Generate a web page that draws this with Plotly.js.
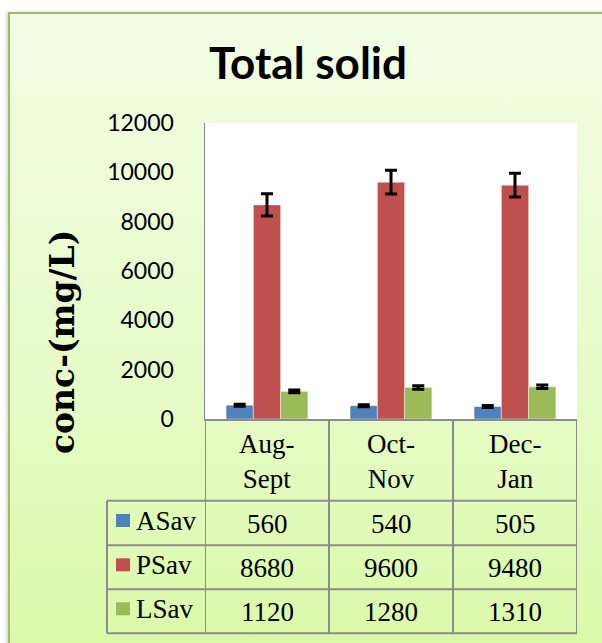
<!DOCTYPE html>
<html>
<head>
<meta charset="utf-8">
<script src="https://cdn.plot.ly/plotly-3.0.1.min.js"></script>
<style>
  html, body { margin: 0; padding: 0; width: 602px; height: 643px; overflow: hidden; background: #ffffff; }
  #frame { position: absolute; left: 8px; top: 12px; width: 700px; height: 700px;
           border: 2px solid #9fbd62; box-shadow: -2px 0 3px rgba(0,0,0,0.15);
           background: linear-gradient(to bottom, #f2fde4 0px, #e6fbc6 380px, #dbf9a9 631px); }
  #chart { position: absolute; left: 0; top: 0; width: 602px; height: 643px; }
</style>
</head>
<body>
<div id="frame"></div>
<div id="chart"></div>
<script>
// ---- data ----
const categories = ["Aug-Sept", "Oct-Nov", "Dec-Jan"];
const tickLabels = ["Aug-<br>Sept", "Oct-<br>Nov", "Dec-<br>Jan"];
const seriesNames = ["ASav", "PSav", "LSav"];
const asav = [560, 540, 505];
const psav = [8680, 9600, 9480];
const lsav = [1120, 1280, 1310];
const asavErr = [40, 40, 40];
const psavErr = [450, 480, 480];
const lsavErr = [60, 70, 70];
const yTickVals = [0, 2000, 4000, 6000, 8000, 10000, 12000];
const chartTitle = "Total solid";
const yTitle = "conc-(mg/L)";

// ---- layout geometry ----
const W = 602, H = 643;
const L = 205, R = 577, T = 123, B = 419;
const PW = R - L, PH = B - T;
const px2x = p => (p - L) / PW;
const px2y = p => (B - p) / PH;

const colors = ["#4f81bd", "#c0504d", "#9bbb59"];
const seriesVals = [asav, psav, lsav];
const seriesErr = [asavErr, psavErr, lsavErr];

const traces = seriesNames.map((n, i) => ({
  type: "bar", name: n, x: categories, y: seriesVals[i],
  marker: { color: colors[i], line: { color: "rgba(255,255,255,0.45)", width: 1 } },
  error_y: { type: "data", array: seriesErr[i], visible: true, color: "#000000", thickness: 3, width: 6 },
  hoverinfo: "x+y+name"
}));

const lineColor = "#8c8c8c";
const serif = "Liberation Serif, Times New Roman, serif";
const shapes = [];
const annotations = [];

// table row boundaries (pixel)
const rowY = [B, 500.7, 545.3, 589.3, 633.3];
for (let r = 1; r < rowY.length; r++) {
  shapes.push({ type: "line", xref: "paper", yref: "paper", x0: px2x(107), x1: 1, y0: px2y(rowY[r]), y1: px2y(rowY[r]), line: { color: lineColor, width: 2 } });
}
for (let k = 0; k <= categories.length; k++) {
  shapes.push({ type: "line", xref: "x", yref: "paper", x0: k - 0.5, x1: k - 0.5, y0: px2y(rowY[0]), y1: px2y(rowY[4]), line: { color: lineColor, width: 2 } });
}
shapes.push({ type: "line", xref: "paper", yref: "paper", x0: px2x(107), x1: px2x(107), y0: px2y(rowY[1]), y1: px2y(rowY[4]), line: { color: lineColor, width: 2 } });

// header labels
categories.forEach((c, i) => {
  annotations.push({ xref: "x", yref: "paper", x: c, y: px2y((rowY[0] + rowY[1]) / 2 + 2),
    text: tickLabels[i], showarrow: false, xanchor: "center", yanchor: "middle",
    font: { family: serif, size: 27, color: "#000" } });
});

// rows: legend key + name + values
seriesNames.forEach((n, r) => {
  const yc = (rowY[r + 1] + rowY[r + 2]) / 2;
  shapes.push({ type: "rect", xref: "paper", yref: "paper",
    x0: px2x(116), x1: px2x(130), y0: px2y(yc - 9), y1: px2y(yc + 4),
    fillcolor: colors[r], line: { width: 0 } });
  annotations.push({ xref: "paper", yref: "paper", x: px2x(134), y: px2y(yc - 2),
    text: n, showarrow: false, xanchor: "left", yanchor: "middle",
    font: { family: serif, size: 27, color: "#000" } });
  categories.forEach((c, i) => {
    annotations.push({ xref: "x", yref: "paper", x: c, y: px2y(yc + 1),
      text: String(seriesVals[r][i]), showarrow: false, xanchor: "center", yanchor: "middle",
      font: { family: serif, size: 27, color: "#000" } });
  });
});

// title
annotations.push({ xref: "paper", yref: "paper", x: px2x(308), y: px2y(62), text: "<b>" + chartTitle + "</b>",
  showarrow: false, xanchor: "center", yanchor: "middle",
  font: { family: "Lato, sans-serif", size: 44, color: "#000" } });
// y title
annotations.push({ xref: "paper", yref: "paper", x: px2x(62), y: px2y(342), text: "<b>" + yTitle + "</b>",
  textangle: -90, showarrow: false, xanchor: "center", yanchor: "middle",
  font: { family: "DejaVu Serif, serif", size: 33, color: "#000" } });

const layout = {
  width: W, height: H,
  margin: { l: L, r: W - R, t: T, b: H - B, pad: 0 },
  paper_bgcolor: "rgba(0,0,0,0)",
  plot_bgcolor: "#ffffff",
  showlegend: false,
  barmode: "group", bargap: 0.34, bargroupgap: 0,
  xaxis: { type: "category", range: [-0.5, 2.5], showticklabels: false, ticks: "",
    showgrid: false, zeroline: false, showline: true, linecolor: lineColor, linewidth: 2, fixedrange: true },
  yaxis: { range: [0, 12000], tickvals: yTickVals, ticktext: yTickVals.map(String), ticks: "",
    showgrid: false, zeroline: false, showline: true, linecolor: "#8a8a8a", linewidth: 1.5,
    ticklabelstandoff: 25, tickfont: { family: "Lato, sans-serif", size: 23, color: "#000" }, fixedrange: true },
  shapes: shapes,
  annotations: annotations
};

Plotly.newPlot("chart", traces, layout, { displayModeBar: false, staticPlot: true });
</script>
</body>
</html>
